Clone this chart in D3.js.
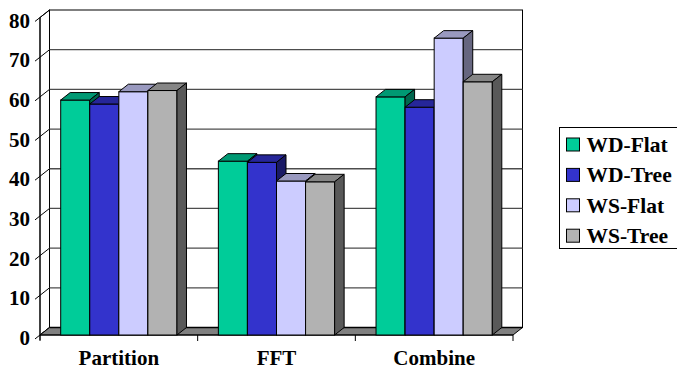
<!DOCTYPE html>
<html>
<head>
<meta charset="utf-8">
<script src="https://cdn.jsdelivr.net/npm/d3@7"></script>
<style>
  html, body { margin: 0; padding: 0; background: #fff; }
  svg { display: block; }
  text { font-family: "Liberation Serif", "Times New Roman", serif; font-weight: bold; fill: #000; }
</style>
</head>
<body>
<svg id="chart" width="677" height="369"></svg>
<script>
// Data
const categories = ["Partition", "FFT", "Combine"];
const seriesNames = ["WD-Flat", "WD-Tree", "WS-Flat", "WS-Tree"];
const wdFlat = [59.2, 43.8, 60.0];
const wdTree = [58.2, 43.5, 57.4];
const wsFlat = [61.3, 38.8, 74.8];
const wsTree = [61.6, 38.6, 63.8];
const yTicks = [0, 10, 20, 30, 40, 50, 60, 70, 80];

const seriesValues = [wdFlat, wdTree, wsFlat, wsTree];
const faceColors = ["#00CC99", "#3333CC", "#CCCCFF", "#B2B2B2"];
const topColors  = ["#009973", "#262699", "#9999BF", "#868686"];
const sideColors = ["#00664D", "#1A1A66", "#666680", "#595959"];

const svg = d3.select("#chart");

// Plot geometry (front plane) and 3D depth offset
const plotLeft = 40, plotRight = 513, plotBottom = 335, plotTop = 17.5;
const dx = 9.5, dy = 7.5;

const x0 = d3.scaleBand().domain(categories).range([plotLeft, plotRight]).paddingInner(0).paddingOuter(0);
const x1 = d3.scaleBand().domain(seriesNames).range([0, x0.bandwidth()]).paddingInner(0).paddingOuter(0.712);
const y = d3.scaleLinear().domain([0, 80]).range([plotBottom, plotTop]);

const poly = pts => pts.map(p => p.join(",")).join(" ");

// Back wall
svg.append("rect")
  .attr("x", plotLeft + dx).attr("y", plotTop - dy)
  .attr("width", plotRight - plotLeft).attr("height", plotBottom - plotTop)
  .attr("fill", "#fff").attr("stroke", "#000").attr("stroke-width", 1);

// Left side wall
svg.append("polygon")
  .attr("points", poly([[plotLeft, plotTop], [plotLeft + dx, plotTop - dy], [plotLeft + dx, plotBottom - dy], [plotLeft, plotBottom]]))
  .attr("fill", "#fff").attr("stroke", "#000").attr("stroke-width", 1);

// Gridlines on the back wall and across the side wall (with tick stubs)
const grid = svg.append("g");
yTicks.forEach(t => {
  const yf = y(t);
  if (t > 0 && t < 80) {
    grid.append("line")
      .attr("x1", plotLeft + dx).attr("x2", plotRight + dx)
      .attr("y1", yf - dy).attr("y2", yf - dy)
      .attr("stroke", "#4d4d4d").attr("stroke-width", 1.3);
  }
  grid.append("line")
    .attr("x1", plotLeft - 5).attr("y1", yf + 5 * dy / dx)
    .attr("x2", plotLeft + dx).attr("y2", yf - dy)
    .attr("stroke", "#000").attr("stroke-width", 1);
});

// Floor
svg.append("polygon")
  .attr("points", poly([[plotLeft, plotBottom], [plotRight, plotBottom], [plotRight + dx, plotBottom - dy], [plotLeft + dx, plotBottom - dy]]))
  .attr("fill", "#808080").attr("stroke", "#000").attr("stroke-width", 1);
svg.append("line")
  .attr("x1", plotLeft + dx).attr("x2", plotRight + dx)
  .attr("y1", plotBottom - dy).attr("y2", plotBottom - dy)
  .attr("stroke", "#000").attr("stroke-width", 1.6);

// Front axis line and category ticks
svg.append("line")
  .attr("x1", plotLeft).attr("x2", plotLeft).attr("y1", plotTop).attr("y2", plotBottom + 5)
  .attr("stroke", "#000").attr("stroke-width", 1);
svg.append("line")
  .attr("x1", plotLeft).attr("x2", plotRight).attr("y1", plotBottom).attr("y2", plotBottom)
  .attr("stroke", "#000").attr("stroke-width", 1);
const catEdges = categories.map(c => x0(c)).concat([plotRight]);
catEdges.forEach(cx => {
  svg.append("line")
    .attr("x1", cx).attr("x2", cx).attr("y1", plotBottom).attr("y2", plotBottom + 6)
    .attr("stroke", "#000").attr("stroke-width", 1);
});

// Bars: drawn left to right so later bars overlap earlier side faces
const bars = svg.append("g");
categories.forEach((cat, ci) => {
  seriesNames.forEach((s, si) => {
    const v = seriesValues[si][ci];
    const bx = x0(cat) + x1(s);
    const bw = x1.bandwidth();
    const by = y(v);
    const g = bars.append("g");
    g.append("rect")
      .attr("x", bx).attr("y", by).attr("width", bw).attr("height", plotBottom - by)
      .attr("fill", faceColors[si]).attr("stroke", "#000").attr("stroke-width", 1);
    g.append("polygon")
      .attr("points", poly([[bx, by], [bx + dx, by - dy], [bx + bw + dx, by - dy], [bx + bw, by]]))
      .attr("fill", topColors[si]).attr("stroke", "#000").attr("stroke-width", 1);
    g.append("polygon")
      .attr("points", poly([[bx + bw, by], [bx + bw + dx, by - dy], [bx + bw + dx, plotBottom - dy], [bx + bw, plotBottom]]))
      .attr("fill", sideColors[si]).attr("stroke", "#000").attr("stroke-width", 1);
  });
});

// Value axis labels
svg.append("g").selectAll("text").data(yTicks).join("text")
  .attr("x", 30).attr("y", d => y(d) + 10)
  .attr("text-anchor", "end")
  .attr("font-size", 21)
  .text(d => d);

// Category labels
svg.append("g").selectAll("text").data(categories).join("text")
  .attr("x", d => x0(d) + x0.bandwidth() / 2).attr("y", 364.5)
  .attr("text-anchor", "middle")
  .attr("font-size", 21)
  .text(d => d);

// Legend
const legend = svg.append("g");
legend.append("rect")
  .attr("x", 559.5).attr("y", 127.5).attr("width", 140).attr("height", 121)
  .attr("fill", "#fff").attr("stroke", "#000").attr("stroke-width", 1);
seriesNames.forEach((s, i) => {
  const cy = 145 + i * 30.4;
  legend.append("rect")
    .attr("x", 566.5).attr("y", cy - 7).attr("width", 13).attr("height", 13)
    .attr("fill", faceColors[i]).attr("stroke", "#000").attr("stroke-width", 1);
  legend.append("text")
    .attr("x", 586.5).attr("y", cy + 7)
    .attr("font-size", 21.5)
    .text(s);
});
</script>
</body>
</html>
